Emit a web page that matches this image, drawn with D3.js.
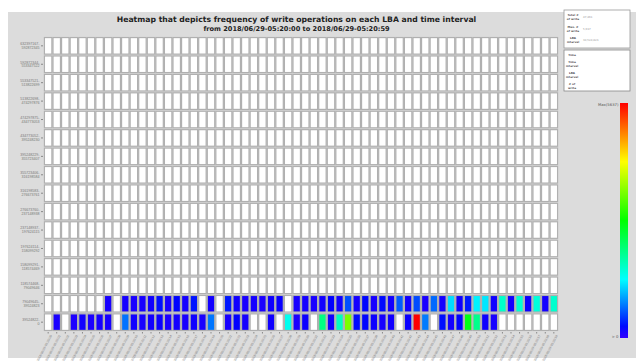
<!DOCTYPE html>
<html>
<head>
<meta charset="utf-8">
<script src="https://cdn.jsdelivr.net/npm/d3@7/dist/d3.min.js"></script>
<style>
  body { margin: 0; background: #fff; }
  svg { display: block; font-family: "DejaVu Sans", Verdana, sans-serif; }
</style>
</head>
<body>
<svg id="chart" width="636" height="361"></svg>
<script>
// ---- data -------------------------------------------------------------
// one column per second of the observed window
const timeLabels = d3.range(60).map(s => `2018/06/29-05:20:${String(s).padStart(2, "0")}`);

// LBA space split into 16 equal ranges (row 0 = lowest LBAs)
const lbaInterval = 39524823;
const lbaRowCount = 16;

// write counts per second for the two lowest LBA ranges
const writesLba0 = [
  0, 120, 0, 95, 150, 110, 140, 130, 0, 760,
  160, 125, 150, 180, 105, 145, 130, 170, 115, 780,
  0, 125, 230, 140, 0, 0, 165, 0, 1500, 110,
  180, 0, 2100, 150, 1750, 3500, 280, 260, 180, 130,
  155, 0, 190, 5637, 800, 0, 300, 145, 250, 2700,
  2050, 170, 125, 0, 0, 0, 0, 0, 0, 0
];
const writesLba1 = [
  0, 0, 0, 0, 0, 0, 0, 125, 0, 140,
  115, 130, 160, 300, 120, 250, 140, 320, 0, 150,
  0, 340, 160, 120, 140, 110, 170, 200, 0, 130,
  140, 120, 150, 230, 160, 600, 140, 260, 130, 280,
  150, 650, 160, 580, 120, 720, 140, 1250, 170, 350,
  1350, 1300, 160, 1700, 150, 1650, 180, 1600, 140, 1680
];
const emptyRow = timeLabels.map(() => 0);
const writeRows = [writesLba0, writesLba1].concat(d3.range(lbaRowCount - 2).map(() => emptyRow));

const totalWritesText = "47,461";
const infoLabels = [["Total #", "of write"], ["Max. #", "of write"], ["LBA", "interval"]];
const hoverLabels = [["Time"], ["Time", "interval"], ["LBA", "interval"], ["# of", "write"]];

// ---- layout -------------------------------------------------------------
const svg = d3.select("#chart");
const maxWrite = d3.max(writeRows, r => d3.max(r));

svg.append("rect").attr("x", 8).attr("y", 12).attr("width", 628).attr("height", 346)
  .attr("fill", "#dcdcdc");

svg.append("text").attr("x", 296.5).attr("y", 22).attr("text-anchor", "middle")
  .attr("font-size", 7.7).attr("font-weight", "bold").attr("fill", "#222")
  .text("Heatmap that depicts frequency of write operations on each LBA and time interval");
svg.append("text").attr("x", 296.5).attr("y", 31).attr("text-anchor", "middle")
  .attr("font-size", 6.6).attr("font-weight", "bold").attr("fill", "#222")
  .text(`from ${timeLabels[0]} to ${timeLabels[timeLabels.length - 1]}`);

// ---- scales ---------------------------------------------------------------
const rowIds = d3.range(lbaRowCount).reverse();           // top row = highest LBAs
const x = d3.scaleBand().domain(timeLabels).range([44, 558]).paddingInner(0.13).paddingOuter(0.05);
const y = d3.scaleBand().domain(rowIds).range([37, 331]).paddingInner(0.1).paddingOuter(0.03);

const color = d3.scaleLinear()
  .domain([0, 0.25, 0.5, 0.75, 1].map(f => f * maxWrite))
  .range(["hsl(252,100%,50%)", "hsl(180,100%,50%)", "hsl(120,100%,50%)", "hsl(60,100%,50%)", "hsl(0,100%,50%)"])
  .interpolate(d3.interpolateHsl);

// ---- cells ----------------------------------------------------------------
const cells = [];
writeRows.forEach((row, r) => row.forEach((v, c) => cells.push({ r, t: timeLabels[c], v })));

svg.append("g").selectAll("rect").data(cells).join("rect")
  .attr("x", d => x(d.t))
  .attr("y", d => y(d.r))
  .attr("width", x.bandwidth())
  .attr("height", y.bandwidth())
  .attr("fill", d => d.v > 0 ? color(d.v) : "#fff")
  .attr("stroke", "#b0b0b0")
  .attr("stroke-width", 1.2);

// ---- axes -----------------------------------------------------------------
const yAxis = svg.append("g").attr("transform", "translate(43,0)")
  .call(d3.axisLeft(y).tickSize(2).tickPadding(1).tickFormat(""));
yAxis.select(".domain").remove();
yAxis.selectAll(".tick line").attr("stroke", "#888");
yAxis.selectAll(".tick").append("text")
  .attr("x", -3.5).attr("text-anchor", "end").attr("font-size", 3.6).attr("fill", "#777")
  .each(function (r) {
    const t = d3.select(this);
    t.append("tspan").attr("x", -3.5).attr("dy", "-0.2em").text(`${(r + 1) * lbaInterval - 1}-`);
    t.append("tspan").attr("x", -3.5).attr("dy", "1.1em").text(`${r * lbaInterval}`);
  });

const xAxis = svg.append("g").attr("transform", "translate(0,332)")
  .call(d3.axisBottom(x).tickSize(1.5).tickPadding(1));
xAxis.select(".domain").remove();
xAxis.selectAll(".tick line").attr("stroke", "#888");
xAxis.selectAll(".tick text")
  .attr("font-size", 3.2).attr("fill", "#777").attr("text-anchor", "end")
  .attr("dy", "0.3em").attr("transform", "translate(1,2) rotate(-62)");

// ---- info panels ----------------------------------------------------------
const info = svg.append("g");
info.append("rect").attr("x", 564).attr("y", 10).attr("width", 66).attr("height", 38)
  .attr("fill", "#fff").attr("stroke", "#999").attr("stroke-width", 0.8);
const infoValues = [totalWritesText, d3.format(",")(maxWrite), d3.format(",")(lbaInterval)];
infoLabels.forEach((lines, i) => {
  const cy = 17 + i * 11.5;
  lines.forEach((l, j) => info.append("text").attr("x", 573).attr("y", cy + (j - 0.5) * 3.8 + 1.1)
    .attr("text-anchor", "middle").attr("font-size", 2.8).attr("font-weight", "bold").attr("fill", "#555").text(l));
  info.append("text").attr("x", 583).attr("y", cy + 1).attr("font-size", 2.7).attr("fill", "#999").text(infoValues[i]);
});

info.append("rect").attr("x", 564).attr("y", 50).attr("width", 66).attr("height", 41)
  .attr("fill", "#fff").attr("stroke", "#888").attr("stroke-width", 0.8);
const hoverY = [54.5, 62, 73, 84];
hoverLabels.forEach((lines, i) => {
  lines.forEach((l, j) => info.append("text").attr("x", 572).attr("y", hoverY[i] + j * 4 + 1)
    .attr("text-anchor", "middle").attr("font-size", 2.8).attr("font-weight", "bold").attr("fill", "#555").text(l));
});

// ---- colour legend ----------------------------------------------------------
const grad = svg.append("defs").append("linearGradient").attr("id", "legendGrad")
  .attr("x1", 0).attr("y1", 1).attr("x2", 0).attr("y2", 0);
d3.range(0, 1.0001, 0.05).forEach(f => grad.append("stop")
  .attr("offset", f).attr("stop-color", color(f * maxWrite)));

const legendY = d3.scaleLinear().domain([0, maxWrite]).range([338, 103]);
svg.append("rect").attr("x", 620).attr("y", legendY(maxWrite)).attr("width", 8)
  .attr("height", legendY(0) - legendY(maxWrite)).attr("fill", "url(#legendGrad)");
svg.append("text").attr("x", 618.5).attr("y", legendY(maxWrite) + 2.5).attr("text-anchor", "end")
  .attr("font-size", 3.8).attr("fill", "#555").text(`Max(${maxWrite})`);
svg.append("text").attr("x", 618.5).attr("y", legendY(0) - 0.5).attr("text-anchor", "end")
  .attr("font-size", 3.8).attr("fill", "#555").text("> 0");
</script>
</body>
</html>
